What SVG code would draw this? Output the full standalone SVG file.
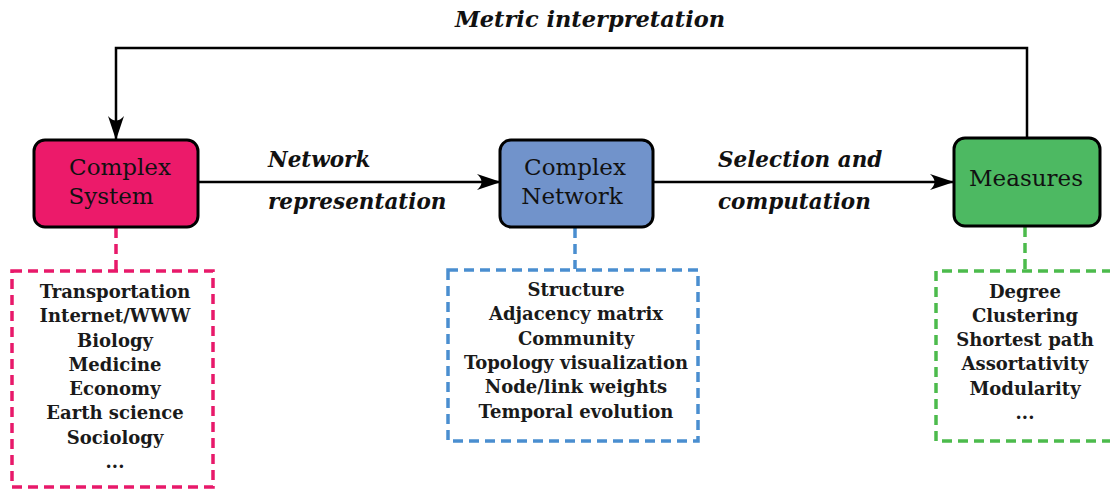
<svg xmlns="http://www.w3.org/2000/svg" width="1110" height="490" viewBox="0 0 1110 490">
<defs>
<marker id="ah" viewBox="0 0 24 16" refX="23" refY="8" markerWidth="24" markerHeight="16" markerUnits="userSpaceOnUse" orient="auto">
<path d="M0,0 Q9,8 0,16 L24,8 Z" fill="#000"/>
</marker>
<style>
.node{stroke:#000;stroke-width:3}
.nl{font-family:"DejaVu Serif","Liberation Serif",serif;font-size:23px;text-anchor:middle;fill:#111}
.el{font-family:"DejaVu Serif","Liberation Serif",serif;font-size:21.5px;font-style:italic;font-weight:bold;fill:#111}
.title{font-family:"DejaVu Serif","Liberation Serif",serif;font-size:22.5px;font-style:italic;font-weight:bold;fill:#111;text-anchor:middle}
.list{font-family:"DejaVu Serif","Liberation Serif",serif;font-size:18px;font-weight:bold;text-anchor:middle;fill:#1a1a1a}
.conn{stroke:#000;stroke-width:2.5;fill:none}
.dash{fill:none;stroke-width:3.5;stroke-dasharray:10,6}
</style>
</defs>
<g id="connectors">
<path class="conn" d="M198,182 H500" marker-end="url(#ah)"/>
<path class="conn" d="M653,182 H953" marker-end="url(#ah)"/>
<path class="conn" d="M1027,137 V48 H116 V139" marker-end="url(#ah)"/>
<path class="dash" stroke="#E8196A" d="M116,228 V270"/>
<path class="dash" stroke="#4A8ED0" d="M575,228 V269"/>
<path class="dash" stroke="#4CBB4C" d="M1025,227 V270"/>
<text class="title" x="590" y="27">Metric interpretation</text>
<text class="el" x="268" y="167">Network</text>
<text class="el" x="268" y="209" font-size="21">representation</text>
<text class="el" x="718" y="167">Selection and</text>
<text class="el" x="718" y="209">computation</text>
</g>
<g id="complex-system">
<rect class="node" x="34" y="140" width="164" height="87" rx="11" fill="#EC1A6A"/>
<text class="nl" x="120" y="175">Complex</text>
<text class="nl" x="111" y="204">System</text>
</g>
<g id="complex-network">
<rect class="node" x="500" y="140" width="153" height="87" rx="11" fill="#7193CB"/>
<text class="nl" x="575" y="175">Complex</text>
<text class="nl" x="572" y="204">Network</text>
</g>
<g id="measures">
<rect class="node" x="954" y="138" width="146" height="88" rx="11" fill="#4DB962"/>
<text class="nl" x="1026" y="186">Measures</text>
</g>
<g id="domains">
<rect class="dash" stroke="#E8196A" x="12" y="271" width="201" height="216"/>
<text class="list" x="115" y="298">Transportation</text>
<text class="list" x="115" y="322">Internet/WWW</text>
<text class="list" x="115" y="347">Biology</text>
<text class="list" x="115" y="371">Medicine</text>
<text class="list" x="115" y="395">Economy</text>
<text class="list" x="115" y="419">Earth science</text>
<text class="list" x="115" y="444">Sociology</text>
<text class="list" x="115" y="468">...</text>
</g>
<g id="network-aspects">
<rect class="dash" stroke="#4A8ED0" x="448" y="270" width="250" height="171"/>
<text class="list" x="576" y="296">Structure</text>
<text class="list" x="576" y="320">Adjacency matrix</text>
<text class="list" x="576" y="345">Community</text>
<text class="list" x="576" y="369">Topology visualization</text>
<text class="list" x="576" y="393">Node/link weights</text>
<text class="list" x="576" y="418">Temporal evolution</text>
</g>
<g id="measure-list">
<path class="dash" stroke="#4CBB4C" d="M1112,271 H936 V441 H1112"/>
<text class="list" x="1025" y="298">Degree</text>
<text class="list" x="1025" y="322">Clustering</text>
<text class="list" x="1025" y="346">Shortest path</text>
<text class="list" x="1025" y="370">Assortativity</text>
<text class="list" x="1025" y="395">Modularity</text>
<text class="list" x="1025" y="419">...</text>
</g>
</svg>
